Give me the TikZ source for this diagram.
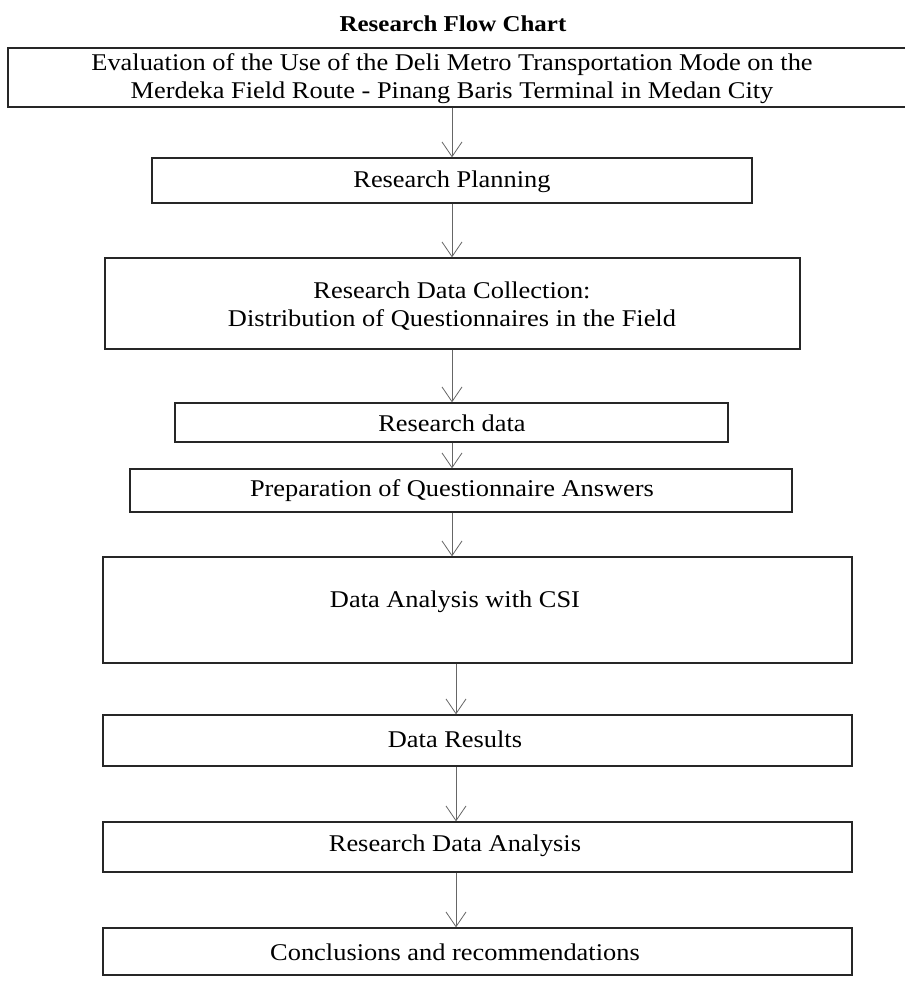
\documentclass[tikz,border=0pt]{standalone}
\usepackage{fontspec}
\setmainfont[FakeStretch=1.1]{Liberation Serif}
\usetikzlibrary{arrows.meta}
\tikzset{
	box/.style={draw=black!85, line width=1pt, rectangle, inner sep=0pt},
	txt/.style={font=\fontsize{18}{21}\selectfont, align=center, inner sep=0pt},
	arr/.style={draw=black!60, line width=0.6pt, -{Straight Barb[length=11pt,width=15pt,line width=0.6pt]}}
}
\begin{document}
\begin{tikzpicture}[x=0.75pt, y=-0.75pt]
			\useasboundingbox (0,0) rectangle (904,1002);
			\coordinate (ax) at (452,0);
			\coordinate (bx) at (456,0);
			\node [txt, font=\fontsize{17}{20}\selectfont\bfseries] (title) at (453,24) {Research Flow Chart};
			\node [box, minimum width=696pt, minimum height=44.25pt] (b1) at (472,77.5) {};
			\node [txt] (t1) at (452,79) {Evaluation of the Use of the Deli Metro Transportation Mode on the\\Merdeka Field Route - Pinang Baris Terminal in Medan City};
			\node [box, minimum width=450pt, minimum height=33.75pt] (b2) at (452,180.5) {};
			\node [txt] (t2) at (452,182) {Research Planning};
			\node [box, minimum width=521.25pt, minimum height=68.25pt] (b3) at (452.5,303.5) {};
			\node [txt] (t3) at (452,306.5) {Research Data Collection:\\Distribution of Questionnaires in the Field};
			\node [box, minimum width=414.75pt, minimum height=29.25pt] (b4) at (451.5,422.5) {};
			\node [txt] (t4) at (452,423) {Research data};
			\node [box, minimum width=496.5pt, minimum height=32.25pt] (b5) at (461,490.5) {};
			\node [txt] (t5) at (452,491) {Preparation of Questionnaire Answers};
			\node [box, minimum width=561.75pt, minimum height=79.5pt] (b6) at (477.5,610) {};
			\node [txt] (t6) at (455,602) {Data Analysis with CSI};
			\node [box, minimum width=561.75pt, minimum height=38.25pt] (b7) at (477.5,740.5) {};
			\node [txt] (t7) at (455,739) {Data Results};
			\node [box, minimum width=561.75pt, minimum height=37.5pt] (b8) at (477.5,847) {};
			\node [txt] (t8) at (455,846) {Research Data Analysis};
			\node [box, minimum width=561.75pt, minimum height=35.25pt] (b9) at (477.5,951.5) {};
			\node [txt] (t9) at (455,952) {Conclusions and recommendations};
			\draw [arr] (b1.south -| ax) -- (b2.north -| ax);
			\draw [arr] (b2.south -| ax) -- (b3.north -| ax);
			\draw [arr] (b3.south -| ax) -- (b4.north -| ax);
			\draw [arr] (b4.south -| ax) -- (b5.north -| ax);
			\draw [arr] (b5.south -| ax) -- (b6.north -| ax);
			\draw [arr] (b6.south -| bx) -- (b7.north -| bx);
			\draw [arr] (b7.south -| bx) -- (b8.north -| bx);
			\draw [arr] (b8.south -| bx) -- (b9.north -| bx);
		\end{tikzpicture}
\end{document}
